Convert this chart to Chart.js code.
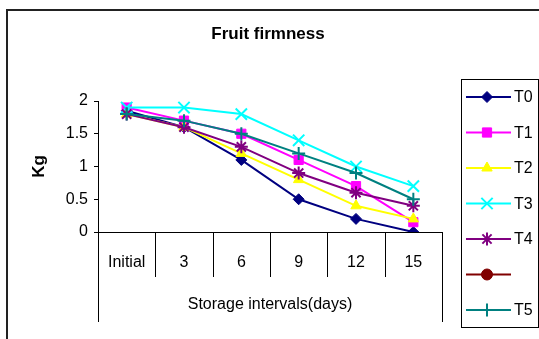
<!DOCTYPE html>
<html>
<head>
<meta charset="utf-8">
<title>Fruit firmness</title>
<script src="https://cdn.jsdelivr.net/npm/chart.js@4/dist/chart.umd.min.js"></script>
<style>
  html, body { margin: 0; padding: 0; background: #ffffff; }
  #wrap { width: 539px; height: 339px; }
</style>
</head>
<body>
<div id="wrap"><canvas id="chart" width="539" height="339"></canvas></div>
<script>
// Storage intervals and firmness readings (Kg) per treatment
const categories = ['Initial', '3', '6', '9', '12', '15'];
const yTicks = [0, 0.5, 1, 1.5, 2];

const seriesT0 = [1.85, 1.6, 1.1, 0.5, 0.2, 0.0];
const seriesT1 = [1.9, 1.7, 1.5, 1.1, 0.7, 0.15];
const seriesT2 = [1.8, 1.6, 1.2, 0.8, 0.4, 0.2];
const seriesT3 = [1.9, 1.9, 1.8, 1.4, 1.0, 0.7];
const seriesT4 = [1.8, 1.6, 1.3, 0.9, 0.6, 0.4];
const seriesBlank = [];
const seriesT5 = [1.8, 1.7, 1.5, 1.2, 0.9, 0.5];

const seriesNames = ['T0', 'T1', 'T2', 'T3', 'T4', '', 'T5'];
const seriesData = [seriesT0, seriesT1, seriesT2, seriesT3, seriesT4, seriesBlank, seriesT5];

const chartTitle = 'Fruit firmness';
const yTitle = 'Kg';
const xTitle = 'Storage intervals(days)';

const FONT = "'Liberation Sans', Arial, Helvetica, sans-serif";

const styles = [
  { color: '#000080', pointStyle: 'rectRot',  radius: 5.5, border: 1 },
  { color: '#FF00FF', pointStyle: 'rect',     radius: 6.5, border: 1 },
  { color: '#FFFF00', pointStyle: 'triangle', radius: 6,   border: 1 },
  { color: '#00FFFF', pointStyle: 'crossRot', radius: 8,   border: 2 },
  { color: '#800080', pointStyle: 'star',     radius: 6.5, border: 2 },
  { color: '#800000', pointStyle: 'circle',   radius: 5.5, border: 1 },
  { color: '#008080', pointStyle: 'cross',    radius: 6.5, border: 2 }
];

const datasets = seriesData.map((data, i) => ({
  label: seriesNames[i],
  data: data,
  borderColor: styles[i].color,
  backgroundColor: styles[i].color,
  pointBackgroundColor: styles[i].color,
  pointBorderColor: styles[i].color,
  pointStyle: styles[i].pointStyle,
  pointRadius: styles[i].radius,
  pointBorderWidth: styles[i].border,
  borderWidth: 2,
  tension: 0,
  fill: false,
  order: seriesData.length - i
}));

// Frame, category dividers, titles and the line-sample legend
const decorations = {
  id: 'decorations',
  afterDraw(chart) {
    const ctx = chart.ctx;
    const area = chart.chartArea;
    const x = chart.scales.x;
    ctx.save();

    // outer frame (left and top edges)
    ctx.strokeStyle = '#222222';
    ctx.lineWidth = 2;
    ctx.beginPath();
    ctx.moveTo(7, 339);
    ctx.lineTo(7, 10);
    ctx.lineTo(539, 10);
    ctx.stroke();

    // category cell dividers below the axis
    const step = x.getPixelForValue(1) - x.getPixelForValue(0);
    ctx.strokeStyle = '#000000';
    ctx.lineWidth = 1;
    for (let i = 0; i <= categories.length; i++) {
      const px = Math.round(x.getPixelForValue(0) - step / 2 + i * step) + 0.5;
      const outer = (i === 0 || i === categories.length);
      ctx.beginPath();
      ctx.moveTo(px, area.bottom);
      ctx.lineTo(px, outer ? 322 : 277);
      ctx.stroke();
    }

    ctx.fillStyle = '#000000';

    // chart title
    ctx.font = 'bold 17px ' + FONT;
    ctx.textAlign = 'center';
    ctx.textBaseline = 'middle';
    ctx.fillText(chartTitle, 268, 34);

    // axis titles
    ctx.font = '16px ' + FONT;
    ctx.fillText(xTitle, (area.left + area.right) / 2, 305);

    ctx.save();
    ctx.translate(39, (area.top + area.bottom) / 2);
    ctx.rotate(-Math.PI / 2);
    ctx.font = 'bold 17px ' + FONT;
    ctx.fillText(yTitle, 0, 0);
    ctx.restore();

    // legend box
    ctx.strokeStyle = '#000000';
    ctx.lineWidth = 1;
    ctx.strokeRect(461.5, 79.5, 77, 248);

    ctx.font = '16px ' + FONT;
    ctx.textAlign = 'left';
    chart.data.datasets.forEach((ds, i) => {
      const cy = 97 + i * 35.5;
      ctx.strokeStyle = ds.borderColor;
      ctx.lineWidth = 2;
      ctx.beginPath();
      ctx.moveTo(466, cy);
      ctx.lineTo(511, cy);
      ctx.stroke();
      ctx.fillStyle = ds.pointBackgroundColor;
      ctx.strokeStyle = ds.pointBorderColor;
      ctx.lineWidth = ds.pointBorderWidth;
      Chart.helpers.drawPoint(ctx, {
        pointStyle: ds.pointStyle,
        radius: ds.pointRadius,
        rotation: 0,
        borderWidth: ds.pointBorderWidth
      }, 487, cy);
      ctx.fillStyle = '#000000';
      ctx.fillText(ds.label, 514, cy + 1);
    });

    ctx.restore();
  }
};

new Chart(document.getElementById('chart'), {
  type: 'line',
  data: { labels: categories, datasets: datasets },
  options: {
    responsive: false,
    animation: false,
    devicePixelRatio: 1,
    layout: { padding: { left: 0, top: 101, right: 97, bottom: 0 } },
    plugins: {
      legend: { display: false },
      title: { display: false },
      tooltip: { enabled: false }
    },
    scales: {
      x: {
        type: 'category',
        offset: true,
        grid: { display: false },
        border: { display: true, color: '#000000', width: 1 },
        ticks: {
          color: '#000000',
          font: { family: FONT, size: 16 },
          padding: 13,
          maxRotation: 0,
          autoSkip: false
        },
        afterFit(scale) { scale.height = 107; }
      },
      y: {
        min: 0,
        max: 2,
        afterBuildTicks(scale) { scale.ticks = yTicks.map(v => ({ value: v })); },
        grid: {
          drawOnChartArea: false,
          drawTicks: true,
          tickLength: 4,
          color: '#000000'
        },
        border: { display: true, color: '#000000', width: 1 },
        ticks: {
          color: '#000000',
          font: { family: FONT, size: 16 },
          padding: 6,
          callback: (value) => String(value)
        },
        afterFit(scale) { scale.width = 98; }
      }
    }
  },
  plugins: [decorations]
});
</script>
</body>
</html>
